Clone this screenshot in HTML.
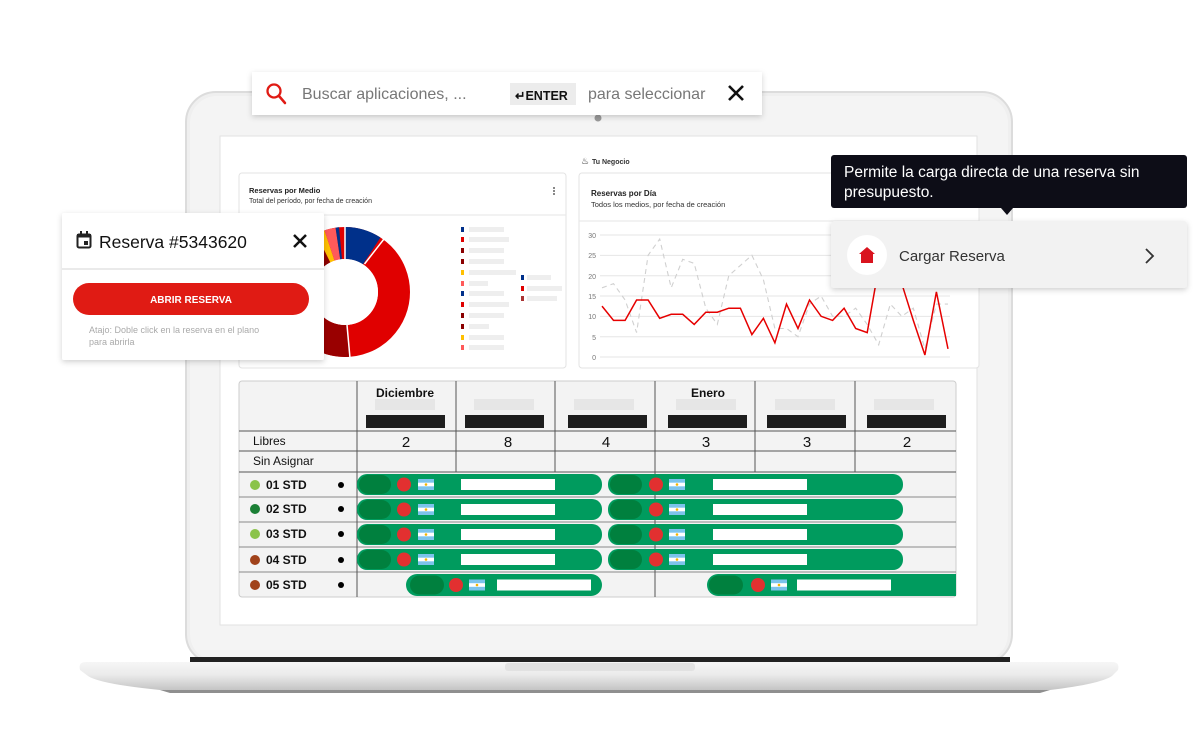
<!DOCTYPE html>
<html><head><meta charset="utf-8">
<style>
html,body{margin:0;padding:0;background:#fff;}
body{width:1200px;height:733px;overflow:hidden;position:relative;font-family:"Liberation Sans",sans-serif;}
svg{position:absolute;left:0;top:0;}
</style></head>
<body>
<svg width="1200" height="733" viewBox="0 0 1200 733" xmlns="http://www.w3.org/2000/svg" font-family="Liberation Sans, sans-serif">
<defs>
<filter id="sh" x="-10%" y="-20%" width="120%" height="150%"><feDropShadow dx="0" dy="2" stdDeviation="3" flood-color="#000" flood-opacity="0.18"/></filter>
<linearGradient id="base" x1="0" y1="0" x2="0" y2="1"><stop offset="0" stop-color="#f6f6f6"/><stop offset="0.45" stop-color="#ebebeb"/><stop offset="1" stop-color="#c4c4c4"/></linearGradient>
<g id="flag"><rect width="16" height="11" fill="#7cc3ec"/><rect y="3.7" width="16" height="3.6" fill="#fff"/><circle cx="8" cy="5.5" r="1.3" fill="#f5b400"/></g>
</defs>

<!-- laptop lid -->
<rect x="186" y="92" width="826" height="572" rx="30" fill="#efefef" stroke="#dcdcdc" stroke-width="2"/>
<rect x="190" y="96" width="818" height="565" rx="27" fill="#f4f4f4"/>
<circle cx="598" cy="118" r="3.5" fill="#999"/>
<rect x="220" y="136" width="757" height="489" fill="#fff" stroke="#e2e2e2"/>
<!-- base -->
<rect x="190" y="657" width="820" height="5" fill="#222"/>
<path d="M86 662 L1112 662 Q1120 662 1118 670 L1112 676 Q1100 684 1050 690 L160 690 Q100 684 88 676 L80 670 Q78 662 86 662 Z" fill="url(#base)"/>
<rect x="505" y="663" width="190" height="8" rx="3" fill="#e2e2e2"/>
<path d="M160 690 L1050 690 L1040 693 L170 693 Z" fill="#8f8f8f"/>

<!-- Tu Negocio -->
<text x="581" y="164" font-size="9" fill="#222">♨</text>
<text x="592" y="164" font-size="7" font-weight="bold" fill="#333">Tu Negocio</text>

<!-- donut card -->
<rect x="239" y="173" width="327" height="195" rx="3" fill="#fff" stroke="#e3e3e3"/>
<line x1="239" y1="215" x2="566" y2="215" stroke="#e6e6e6"/>
<text x="249" y="193" font-size="7.5" font-weight="bold" fill="#222">Reservas por Medio</text>
<text x="249" y="203" font-size="7" fill="#333">Total del período, por fecha de creación</text>
<circle cx="554" cy="188" r="0.9" fill="#333"/><circle cx="554" cy="191" r="0.9" fill="#333"/><circle cx="554" cy="194" r="0.9" fill="#333"/>
<g transform="rotate(-90 345 292)" fill="none" stroke-width="32">
<circle cx="345" cy="292" r="49" stroke="#e00000" />
<circle cx="345" cy="292" r="49" stroke="#00308a" stroke-dasharray="28.2 400" stroke-dashoffset="0"/>
<circle cx="345" cy="292" r="49" stroke="#990000" stroke-dasharray="42.8 400" stroke-dashoffset="-150.5"/>
<circle cx="345" cy="292" r="49" stroke="#8b0000" stroke-dasharray="11.1 400" stroke-dashoffset="-273.7"/>
<circle cx="345" cy="292" r="49" stroke="#ffc000" stroke-dasharray="6.8 400" stroke-dashoffset="-284.8"/>
<circle cx="345" cy="292" r="49" stroke="#ff5a5a" stroke-dasharray="8.6 400" stroke-dashoffset="-291.6"/>
<circle cx="345" cy="292" r="49" stroke="#00308a" stroke-dasharray="2.6 400" stroke-dashoffset="-300.2"/>
</g>
<g stroke="#fff" stroke-width="1.5">
<line x1="345" y1="292" x2="345" y2="226"/>
<line x1="364.5" y1="264" x2="384" y2="239"/>
<line x1="347" y1="325" x2="350" y2="358"/>
</g>
<circle cx="345" cy="292" r="33" fill="#fff"/>
<!-- legend -->
<g>
<rect x="461" y="227" width="3" height="5" fill="#00308a"/><rect x="469" y="227" width="35" height="5" fill="#eee"/>
<rect x="461" y="237" width="3" height="5" fill="#e00000"/><rect x="469" y="237" width="40" height="5" fill="#eee"/>
<rect x="461" y="248" width="3" height="5" fill="#8b0000"/><rect x="469" y="248" width="35" height="5" fill="#eee"/>
<rect x="461" y="259" width="3" height="5" fill="#8b0000"/><rect x="469" y="259" width="35" height="5" fill="#eee"/>
<rect x="461" y="270" width="3" height="5" fill="#ffc000"/><rect x="469" y="270" width="47" height="5" fill="#eee"/>
<rect x="461" y="281" width="3" height="5" fill="#ff5a5a"/><rect x="469" y="281" width="19" height="5" fill="#eee"/>
<rect x="461" y="291" width="3" height="5" fill="#00308a"/><rect x="469" y="291" width="35" height="5" fill="#eee"/>
<rect x="461" y="302" width="3" height="5" fill="#e00000"/><rect x="469" y="302" width="40" height="5" fill="#eee"/>
<rect x="461" y="313" width="3" height="5" fill="#8b0000"/><rect x="469" y="313" width="35" height="5" fill="#eee"/>
<rect x="461" y="324" width="3" height="5" fill="#8b0000"/><rect x="469" y="324" width="20" height="5" fill="#eee"/>
<rect x="461" y="335" width="3" height="5" fill="#ffc000"/><rect x="469" y="335" width="35" height="5" fill="#eee"/>
<rect x="461" y="345" width="3" height="5" fill="#ff5a5a"/><rect x="469" y="345" width="35" height="5" fill="#eee"/>
<rect x="521" y="275" width="3" height="5" fill="#00308a"/><rect x="527" y="275" width="24" height="5" fill="#eee"/>
<rect x="521" y="286" width="3" height="5" fill="#e00000"/><rect x="527" y="286" width="35" height="5" fill="#eee"/>
<rect x="521" y="296" width="3" height="5" fill="#a33"/><rect x="527" y="296" width="30" height="5" fill="#eee"/>
</g>

<!-- line chart card -->
<rect x="579" y="173" width="400" height="195" rx="3" fill="#fff" stroke="#e3e3e3"/>
<line x1="579" y1="221" x2="979" y2="221" stroke="#e6e6e6"/>
<text x="591" y="196" font-size="8" font-weight="bold" fill="#222">Reservas por Día</text>
<text x="591" y="207" font-size="7.5" fill="#333">Todos los medios, por fecha de creación</text>
<g stroke="#e6e6e6" stroke-width="1">
<line x1="600" y1="235" x2="950" y2="235"/><line x1="600" y1="255.4" x2="950" y2="255.4"/><line x1="600" y1="275.7" x2="950" y2="275.7"/>
<line x1="600" y1="296" x2="950" y2="296"/><line x1="600" y1="316.4" x2="950" y2="316.4"/><line x1="600" y1="336.7" x2="950" y2="336.7"/><line x1="600" y1="357" x2="950" y2="357"/>
</g>
<g font-size="7" fill="#777" text-anchor="end">
<text x="596" y="238">30</text><text x="596" y="258">25</text><text x="596" y="279">20</text><text x="596" y="299">15</text><text x="596" y="319">10</text><text x="596" y="340">5</text><text x="596" y="360">0</text>
</g>
<polyline fill="none" stroke="#d0d0d0" stroke-width="1.1" stroke-dasharray="5 4" points="602,287.8 613.5,283.7 625.1,300 636.6,332.6 648.1,255.3 659.7,239 671.2,287.8 682.7,259.3 694.2,263.4 705.8,308.2 717.3,324.4 728.8,275.6 740.4,265.4 751.9,255.3 763.4,279.7 774.9,328.5 786.5,328.5 798,336.7 809.5,304.1 821.1,296 832.6,316.3 844.1,316.3 855.7,308.2 867.2,324.4 878.7,344.8 890.3,304.1 901.8,316.3 913.3,308.2 924.9,348.9 936.4,304.1 948,304.1"/>
<polyline fill="none" stroke="#e60000" stroke-width="1.5" points="602,306.1 613.5,320.4 625.1,320.4 636.6,300 648.1,300 659.7,318.3 671.2,314.3 682.7,314.3 694.2,324.4 705.8,312.2 717.3,312.2 728.8,308.2 740.4,308.2 751.9,334.6 763.4,318.3 774.9,342.8 786.5,304.1 798,328.5 809.5,300 821.1,316.3 832.6,320.4 844.1,308.2 855.7,328.5 867.2,332.6 878.7,267.5 890.3,255 901.8,283.7 913.3,320.4 924.9,355 936.4,291.9 948,348.9"/>

<!-- table -->
<rect x="239" y="381" width="717" height="216" rx="3" fill="#f3f3f3" stroke="#ccc"/>
<g stroke="#555" stroke-width="1">
<line x1="239" y1="431" x2="956" y2="431"/><line x1="239" y1="451" x2="956" y2="451"/><line x1="239" y1="472" x2="956" y2="472"/>
<line x1="239" y1="497" x2="956" y2="497" stroke="#888"/><line x1="239" y1="522" x2="956" y2="522" stroke="#888"/><line x1="239" y1="547" x2="956" y2="547" stroke="#888"/><line x1="239" y1="572" x2="956" y2="572" stroke="#888"/>
<line x1="357" y1="381" x2="357" y2="597"/><line x1="456" y1="381" x2="456" y2="472"/><line x1="555" y1="381" x2="555" y2="472"/>
<line x1="655" y1="381" x2="655" y2="597"/><line x1="755" y1="381" x2="755" y2="472"/><line x1="855" y1="381" x2="855" y2="472"/>
</g>
<g fill="#e6e6e6">
<rect x="375" y="399" width="60" height="11"/><rect x="474" y="399" width="60" height="11"/><rect x="574" y="399" width="60" height="11"/>
<rect x="676" y="399" width="60" height="11"/><rect x="775" y="399" width="60" height="11"/><rect x="874" y="399" width="60" height="11"/>
</g>
<g fill="#1e1e1e">
<rect x="366" y="415" width="79" height="13"/><rect x="465" y="415" width="79" height="13"/><rect x="568" y="415" width="79" height="13"/>
<rect x="668" y="415" width="79" height="13"/><rect x="767" y="415" width="79" height="13"/><rect x="867" y="415" width="79" height="13"/>
</g>
<text x="405" y="397" font-size="12" font-weight="bold" fill="#111" text-anchor="middle">Diciembre</text>
<text x="708" y="397" font-size="12" font-weight="bold" fill="#111" text-anchor="middle">Enero</text>
<g font-size="15" fill="#111" text-anchor="middle">
<text x="406" y="447">2</text><text x="508" y="447">8</text><text x="606" y="447">4</text><text x="706" y="447">3</text><text x="807" y="447">3</text><text x="907" y="447">2</text>
</g>
<text x="253" y="445" font-size="12" fill="#111">Libres</text>
<text x="253" y="465" font-size="12" fill="#111">Sin Asignar</text>
<g font-size="12" font-weight="bold" fill="#111">
<circle cx="255" cy="485" r="5" fill="#8bc34a"/><text x="266" y="489">01 STD</text><circle cx="341" cy="485" r="3" fill="#000"/>
<circle cx="255" cy="509" r="5" fill="#1b7f35"/><text x="266" y="513">02 STD</text><circle cx="341" cy="509" r="3" fill="#000"/>
<circle cx="255" cy="534" r="5" fill="#8bc34a"/><text x="266" y="538">03 STD</text><circle cx="341" cy="534" r="3" fill="#000"/>
<circle cx="255" cy="560" r="5" fill="#a0421a"/><text x="266" y="564">04 STD</text><circle cx="341" cy="560" r="3" fill="#000"/>
<circle cx="255" cy="585" r="5" fill="#a0421a"/><text x="266" y="589">05 STD</text><circle cx="341" cy="585" r="3" fill="#000"/>
</g>
<!-- bars -->
<g>
<g transform="translate(0,474)">
<rect x="357" width="245" height="21" rx="10" fill="#009b5e"/><rect x="359" y="1" width="32" height="19" rx="9.5" fill="#00803e"/><circle cx="404" cy="10.5" r="7" fill="#e23030"/><use href="#flag" x="418" y="5"/><rect x="461" y="5" width="94" height="11" fill="#fff"/>
<rect x="608" width="295" height="21" rx="10" fill="#009b5e"/><rect x="610" y="1" width="32" height="19" rx="9.5" fill="#00803e"/><circle cx="656" cy="10.5" r="7" fill="#e23030"/><use href="#flag" x="669" y="5"/><rect x="713" y="5" width="94" height="11" fill="#fff"/>
</g>
<g transform="translate(0,499)">
<rect x="357" width="245" height="21" rx="10" fill="#009b5e"/><rect x="359" y="1" width="32" height="19" rx="9.5" fill="#00803e"/><circle cx="404" cy="10.5" r="7" fill="#e23030"/><use href="#flag" x="418" y="5"/><rect x="461" y="5" width="94" height="11" fill="#fff"/>
<rect x="608" width="295" height="21" rx="10" fill="#009b5e"/><rect x="610" y="1" width="32" height="19" rx="9.5" fill="#00803e"/><circle cx="656" cy="10.5" r="7" fill="#e23030"/><use href="#flag" x="669" y="5"/><rect x="713" y="5" width="94" height="11" fill="#fff"/>
</g>
<g transform="translate(0,524)">
<rect x="357" width="245" height="21" rx="10" fill="#009b5e"/><rect x="359" y="1" width="32" height="19" rx="9.5" fill="#00803e"/><circle cx="404" cy="10.5" r="7" fill="#e23030"/><use href="#flag" x="418" y="5"/><rect x="461" y="5" width="94" height="11" fill="#fff"/>
<rect x="608" width="295" height="21" rx="10" fill="#009b5e"/><rect x="610" y="1" width="32" height="19" rx="9.5" fill="#00803e"/><circle cx="656" cy="10.5" r="7" fill="#e23030"/><use href="#flag" x="669" y="5"/><rect x="713" y="5" width="94" height="11" fill="#fff"/>
</g>
<g transform="translate(0,549)">
<rect x="357" width="245" height="21" rx="10" fill="#009b5e"/><rect x="359" y="1" width="32" height="19" rx="9.5" fill="#00803e"/><circle cx="404" cy="10.5" r="7" fill="#e23030"/><use href="#flag" x="418" y="5"/><rect x="461" y="5" width="94" height="11" fill="#fff"/>
<rect x="608" width="295" height="21" rx="10" fill="#009b5e"/><rect x="610" y="1" width="32" height="19" rx="9.5" fill="#00803e"/><circle cx="656" cy="10.5" r="7" fill="#e23030"/><use href="#flag" x="669" y="5"/><rect x="713" y="5" width="94" height="11" fill="#fff"/>
</g>
<g transform="translate(0,574)">
<rect x="406" width="196" height="22" rx="11" fill="#009b5e"/><rect x="410" y="1.5" width="34" height="19" rx="9.5" fill="#00803e"/><circle cx="456" cy="11" r="7" fill="#e23030"/><use href="#flag" x="469" y="5.5"/><rect x="497" y="5.5" width="94" height="11" fill="#fff"/>
<path d="M718 0 H956 V22 H718 A11 11 0 0 1 718 0 Z" fill="#009b5e"/><rect x="709" y="1.5" width="34" height="19" rx="9.5" fill="#00803e"/><circle cx="758" cy="11" r="7" fill="#e23030"/><use href="#flag" x="771" y="5.5"/><rect x="797" y="5.5" width="94" height="11" fill="#fff"/>
</g>
</g>

<!-- search bar -->
<rect x="252" y="72" width="510" height="43" fill="#fff" filter="url(#sh)"/>
<circle cx="274" cy="91" r="6.5" fill="none" stroke="#e01b14" stroke-width="2.3"/>
<line x1="279" y1="96" x2="285" y2="103" stroke="#e01b14" stroke-width="2.5" stroke-linecap="round"/>
<text x="302" y="99" font-size="16" fill="#777">Buscar aplicaciones, ...</text>
<rect x="510" y="83" width="66" height="22" fill="#ececec"/>
<text x="515" y="100" font-size="12.5" font-weight="bold" fill="#111">↵ENTER</text>
<text x="588" y="99" font-size="16" fill="#777">para seleccionar</text>
<path d="M729 86 L743 100 M743 86 L729 100" stroke="#111" stroke-width="2.6"/>

<!-- reserva popup -->
<rect x="62" y="213" width="262" height="147" rx="2" fill="#fff" filter="url(#sh)"/>
<line x1="62" y1="269" x2="324" y2="269" stroke="#e4e4e4" stroke-width="1.5"/>
<rect x="77.5" y="234.5" width="13" height="13" rx="1.5" fill="none" stroke="#222" stroke-width="2"/>
<rect x="77" y="234" width="14" height="3.5" fill="#222"/><rect x="80" y="231" width="2" height="4" fill="#222"/><rect x="86" y="231" width="2" height="4" fill="#222"/>
<rect x="84" y="241" width="4" height="4" fill="#222"/>
<text x="99" y="248" font-size="17.5" fill="#111">Reserva #5343620</text>
<path d="M294 235 L306 247 M306 235 L294 247" stroke="#111" stroke-width="2.5"/>
<rect x="73" y="283" width="236" height="32" rx="16" fill="#e01b14"/>
<text x="191" y="303" font-size="10" font-weight="bold" fill="#fff" text-anchor="middle">ABRIR RESERVA</text>
<text x="89" y="333" font-size="9" fill="#aaa">Atajo: Doble click en la reserva en el plano</text>
<text x="89" y="345" font-size="9" fill="#aaa">para abrirla</text>

<!-- tooltip -->
<rect x="831" y="155" width="356" height="53" rx="3" fill="#0d0d17"/>
<path d="M1001 208 L1007 215 L1013 208 Z" fill="#0d0d17"/>
<text x="844" y="177" font-size="15.5" fill="#fff">Permite la carga directa de una reserva sin</text>
<text x="844" y="197" font-size="15.5" fill="#fff">presupuesto.</text>
<rect x="831" y="221" width="356" height="67" rx="3" fill="#f2f2f2" filter="url(#sh)"/>
<circle cx="867" cy="255" r="20" fill="#fff"/>
<path d="M867 247 L875 254 L873 254 L873 263 L861 263 L861 254 L859 254 Z" fill="#d9131e"/>
<text x="899" y="261" font-size="15" fill="#333">Cargar Reserva</text>
<path d="M1146 249 L1153 256 L1146 263" fill="none" stroke="#333" stroke-width="1.8"/>
</svg>
</body></html>
